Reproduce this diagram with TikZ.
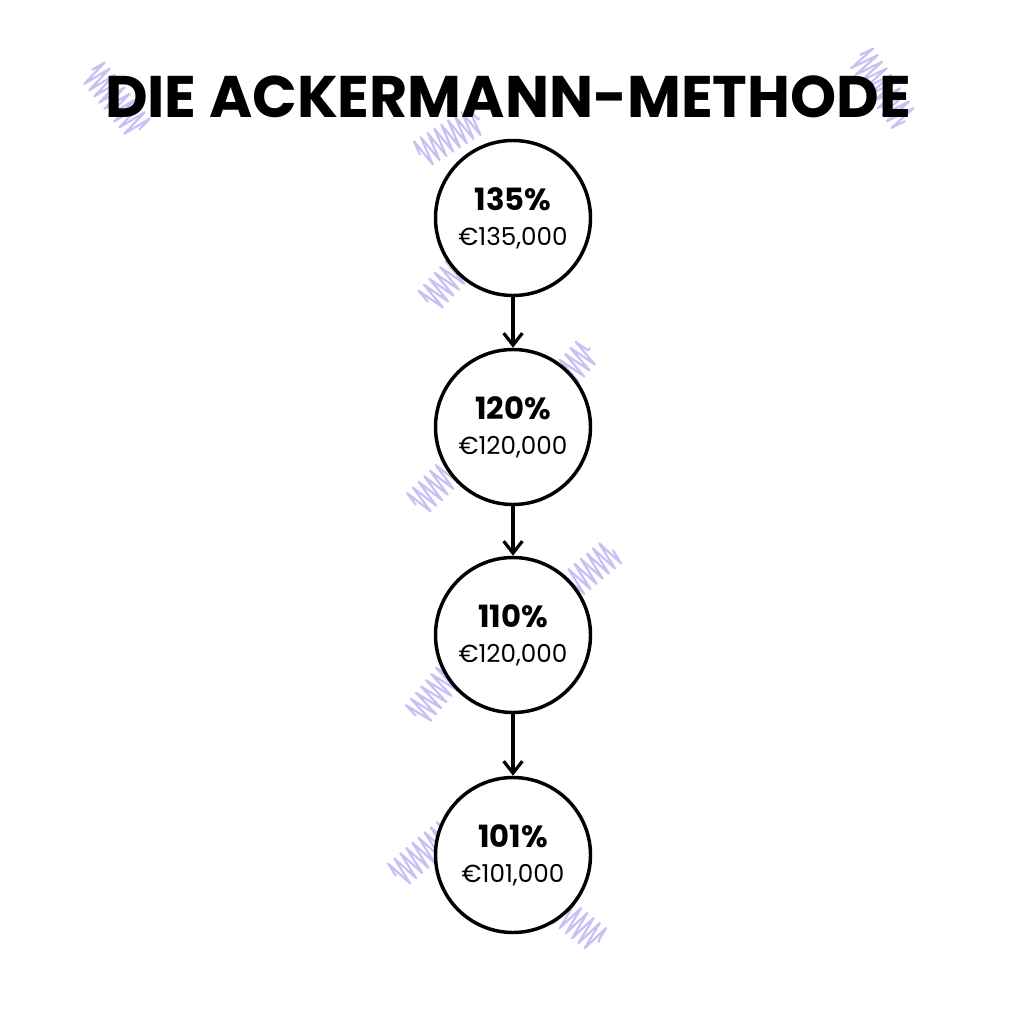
\documentclass[tikz,border=0pt]{standalone}
\usepackage{fontspec}
\setmainfont{Poppins}
\newfontfamily\titlefont{Poppins}[UprightFont=* Bold]
\usetikzlibrary{arrows.meta,decorations.pathmorphing}
\definecolor{scrib}{HTML}{9C8CEB}
\tikzset{
  px/.style={x=0.75pt,y=-0.75pt},
  stage/.style={circle,draw=black,line width=2.6pt,minimum size=155*0.75pt,inner sep=0pt,fill=white,align=center,
     font=\fontsize{18.5}{26}\selectfont},
  flow/.style={line width=2.4pt,-{Straight Barb[length=9pt,width=14pt,line width=2.4pt]}},
  scribble/.style={draw=scrib,opacity=0.55,line width=1.6pt,line join=round,
     decorate,decoration={zigzag,segment length=6pt,amplitude=11pt}},
}
\newcommand{\pctline}[1]{{\fontsize{23}{26}\selectfont\bfseries #1}}
\begin{document}
\begin{tikzpicture}[px]
\useasboundingbox[fill=white] (0,0) rectangle (1024,1024);
% scribbles
\draw[scribble] (92,70) -- (140,130);
\draw[scribble] (860,55) -- (905,122);
\draw[scribble] (420,155) -- (480,118);
\draw[scribble] (428,302) -- (470,256);
\draw[scribble] (548,395) -- (590,348);
\draw[scribble] (416,505) -- (462,460);
\draw[scribble] (558,597) -- (614,550);
\draw[scribble] (416,716) -- (460,662);
\draw[scribble] (396,876) -- (448,832);
\draw[scribble] (533,888) -- (600,942);
% title
\node[font=\titlefont\fontsize{44}{48}\selectfont] (title) at (508,97) {DIE ACKERMANN-METHODE};
% circles
\node[stage] (c1) at (513,218) {\pctline{135\%}\\€135,000};
\node[stage] (c2) at (513,427) {\pctline{120\%}\\€120,000};
\node[stage] (c3) at (513,635) {\pctline{110\%}\\€120,000};
\node[stage] (c4) at (513,855) {\pctline{101\%}\\€101,000};
\draw[flow] (c1) -- (c2);
\draw[flow] (c2) -- (c3);
\draw[flow] (c3) -- (c4);
\end{tikzpicture}
\end{document}
